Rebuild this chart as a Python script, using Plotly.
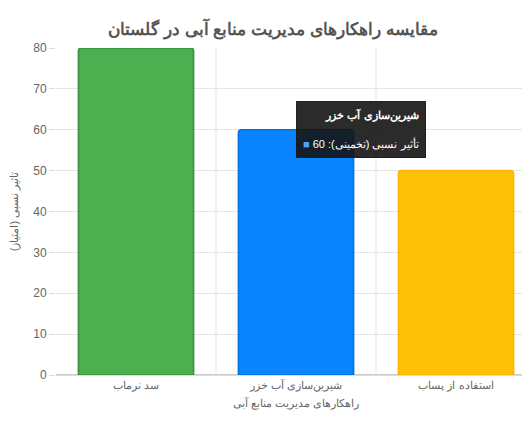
import plotly.graph_objects as go

categories = ["سد نرماب", "شیرین‌سازی آب خزر", "استفاده از پساب"]
values = [80, 60, 50]
colors = ["#4caf50", "#0a84ff", "#ffc107"]
borders = ["#388e3c", "#0070e0", "#ffb300"]

fig = go.Figure()
fig.add_trace(go.Bar(
    x=categories, y=values, width=0.72,
    marker=dict(color=colors, line=dict(color=borders, width=1.5), cornerradius=3),
    name="تأثیر نسبی (تخمینی)",
))

# static tooltip like the reference's hover box
fig.add_annotation(
    x=categories[1], y=values[1], xref="x", yref="y",
    xshift=65, yshift=0, yanchor="middle",
    text="<b>شیرین‌سازی آب خزر</b><br><br><span style='color:#4aa3ff'>■</span> تأثیر نسبی (تخمینی): 60",
    showarrow=False, align="right",
    bgcolor="rgba(20,20,20,0.9)", bordercolor="rgba(20,20,20,0.9)",
    borderpad=6, font=dict(color="white", size=11, family="Liberation Sans"),
)

fig.update_layout(
    width=530, height=425,
    margin=dict(l=48, r=2, t=40, b=58, autoexpand=False),
    paper_bgcolor="white", plot_bgcolor="white",
    font=dict(family="Liberation Sans", color="#666", size=11),
    title=dict(text="<b>مقایسه راهکارهای مدیریت منابع آبی در گلستان</b>",
               x=0.5, y=0.965, xanchor="center", font=dict(size=17, color="#555")),
    showlegend=False,
    bargap=0.28,
)
fig.update_xaxes(
    title=dict(text="راهکارهای مدیریت منابع آبی", font=dict(size=11), standoff=8),
    showgrid=False, showline=True, linecolor="#ddd",
    ticks="outside", ticklen=0,
)
fig.update_yaxes(
    title=dict(text="تاثیر نسبی (امتیاز)", font=dict(size=11)),
    range=[0, 80], dtick=10, gridcolor="#e5e5e5", zeroline=True, zerolinecolor="#ccc",
    ticks="outside", ticklen=6, tickcolor="#ddd", tickfont=dict(size=12),
)
# vertical category separators
for xv in [0.5, 1.5]:
    fig.add_shape(type="line", xref="x", yref="paper", x0=xv, x1=xv, y0=0, y1=1,
                  line=dict(color="#e5e5e5", width=1), layer="below")

fig.write_html("out.html")
